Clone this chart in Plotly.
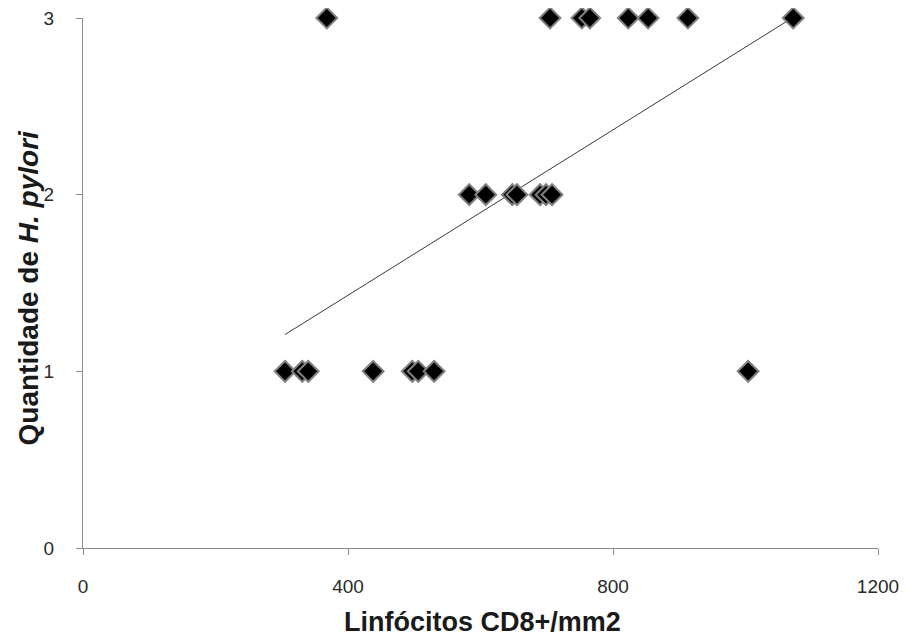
import numpy as np
import plotly.graph_objects as go

# Data (Linfócitos CD8+/mm2 vs Quantidade de H. pylori)
x_q1 = [305, 331, 340, 438, 497, 506, 530, 1004]
x_q2 = [583, 608, 648, 655, 690, 699, 708]
x_q3 = [368, 705, 753, 765, 823, 853, 913, 1072]

x_vals = x_q1 + x_q2 + x_q3
y_vals = [1] * len(x_q1) + [2] * len(x_q2) + [3] * len(x_q3)

x_ticks = [0, 400, 800, 1200]
y_ticks = [0, 1, 2, 3]

x_title = "<b>Linfócitos CD8+/mm2</b>"
y_title = "<b>Quantidade de <i>H. pylori</i></b>"

# Linear trendline (least squares), drawn from min to max x
slope, intercept = np.polyfit(x_vals, y_vals, 1)
tx = np.array([min(x_vals), max(x_vals)])
ty = slope * tx + intercept

tick_font = "Liberation Sans, Arial, sans-serif"
title_font = "Liberation Sans, Arial, sans-serif"

fig = go.Figure()
fig.add_trace(go.Scatter(
    x=tx, y=ty, mode="lines",
    line=dict(color="#3a3a3a", width=1),
    showlegend=False, hoverinfo="skip",
))
fig.add_trace(go.Scatter(
    x=x_vals, y=y_vals, mode="markers",
    marker=dict(symbol="diamond", size=16, color="black",
                line=dict(color="#808080", width=2)),
    cliponaxis=False, showlegend=False,
))

axis_common = dict(
    showgrid=False, zeroline=False,
    showline=True, linecolor="#8c8c8c", linewidth=1,
    ticks="outside", ticklen=6, tickcolor="#8c8c8c",
    tickfont=dict(size=19, color="#2a2a2a", family=tick_font),
    ticklabeloverflow="allow",
    automargin=False,
)

fig.update_layout(
    width=913, height=644,
    margin=dict(l=75, r=43, t=10, b=104),
    paper_bgcolor="white", plot_bgcolor="white",
    font=dict(family=tick_font, color="#222222", size=19),
    xaxis=dict(range=[0, 1200], tickvals=x_ticks,
               ticktext=[str(v) for v in x_ticks],
               ticklabelstandoff=15, **axis_common),
    yaxis=dict(range=[0, 3], tickvals=y_ticks,
               ticktext=[str(v) for v in y_ticks],
               ticklabelstandoff=18, **axis_common),
    annotations=[
        dict(text=x_title, xref="paper", yref="paper", x=0.503, y=-0.14,
             xanchor="center", yanchor="middle", showarrow=False,
             font=dict(size=27, color="#1a1a1a", family=title_font)),
        dict(text=y_title, xref="paper", yref="paper", x=-0.069, y=0.49,
             xanchor="center", yanchor="middle", showarrow=False,
             textangle=-90,
             font=dict(size=28, color="#1a1a1a", family=title_font)),
    ],
)

fig.write_html("out.html")
